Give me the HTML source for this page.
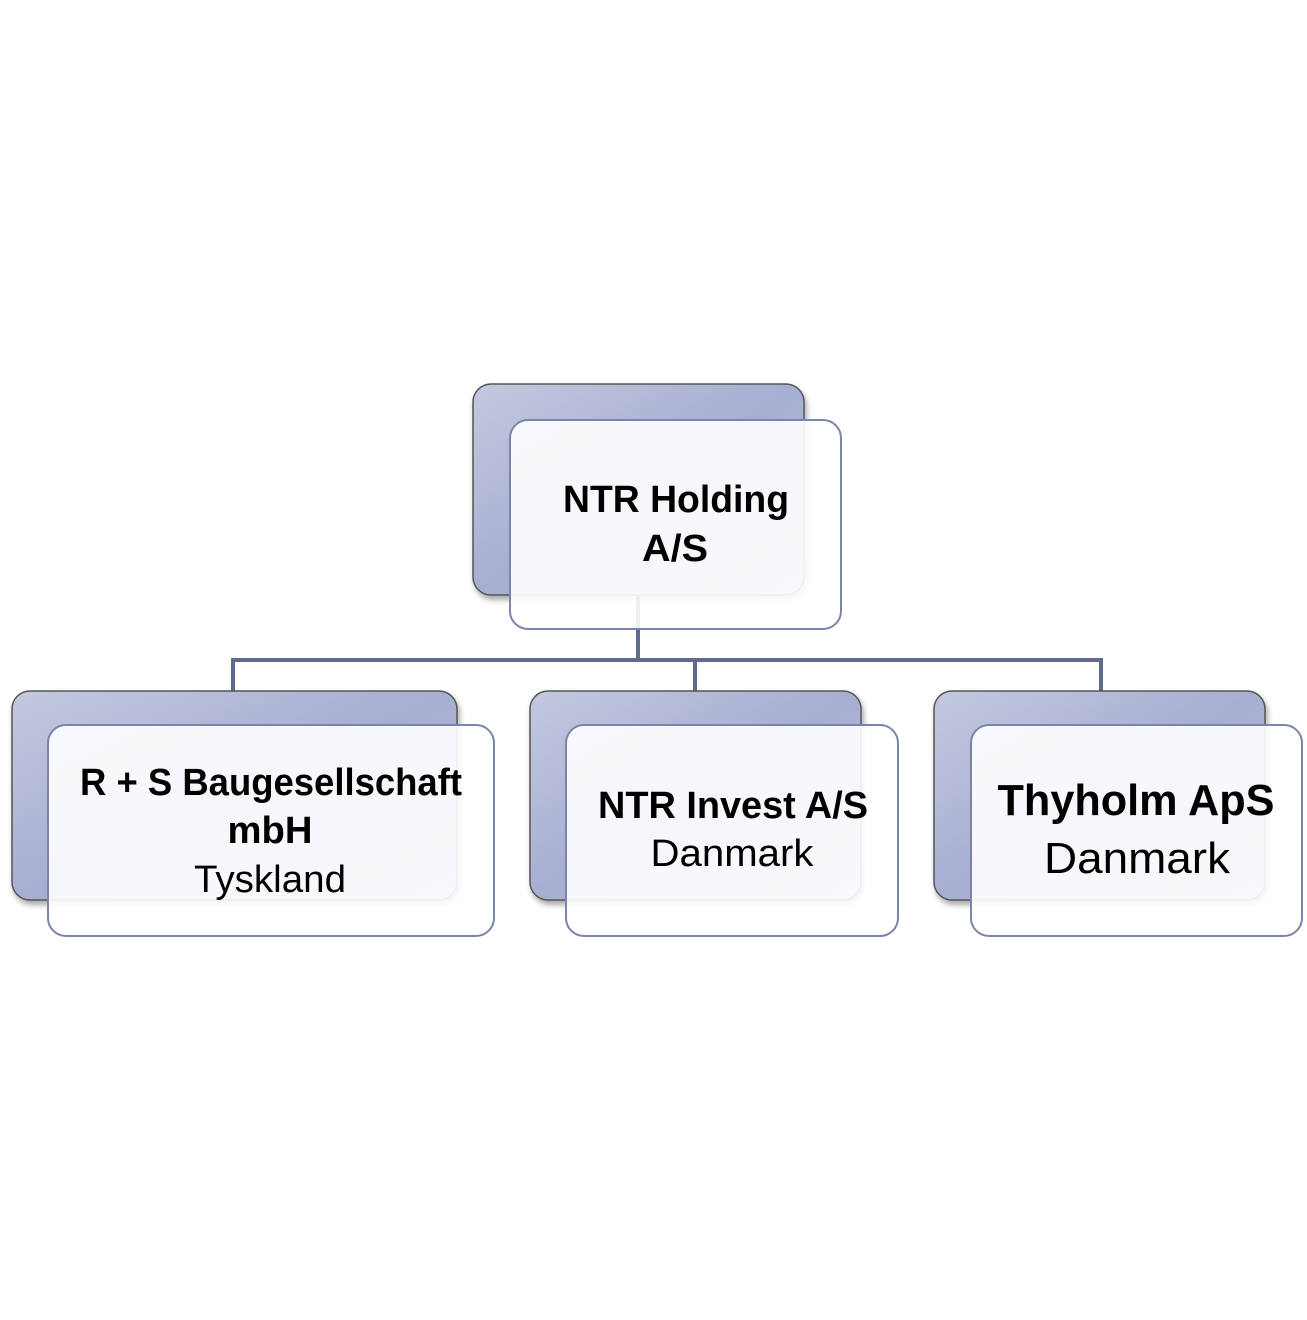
<!DOCTYPE html>
<html><head><meta charset="utf-8"><style>
html,body{margin:0;padding:0;background:#fff;}
svg{display:block;}
text{font-family:"Liberation Sans",sans-serif;fill:#000;text-anchor:middle;}
.b{font-weight:bold;}
</style></head><body>
<svg width="1307" height="1320" viewBox="0 0 1307 1320" xmlns="http://www.w3.org/2000/svg">
<defs>
<linearGradient id="g" x1="0" y1="0" x2="1" y2="1">
<stop offset="0" stop-color="#c4c9df"/>
<stop offset="0.5" stop-color="#a6aed2"/>
<stop offset="1" stop-color="#b8bedb"/>
</linearGradient>
<filter id="sh" x="-10%" y="-10%" width="130%" height="130%">
<feDropShadow dx="2" dy="4" stdDeviation="3" flood-color="#000" flood-opacity="0.35"/>
</filter>
</defs>
<!-- connectors -->
<g stroke="#5f6a8c" stroke-width="4" fill="none">
<line x1="638" y1="595" x2="638" y2="660"/>
<line x1="231" y1="660" x2="1103" y2="660"/>
<line x1="233" y1="660" x2="233" y2="692"/>
<line x1="695" y1="660" x2="695" y2="692"/>
<line x1="1101" y1="660" x2="1101" y2="692"/>
</g>
<!-- back boxes -->
<g fill="url(#g)" stroke="#555" stroke-width="1.5" filter="url(#sh)">
<rect x="473" y="384" width="331" height="211" rx="18"/>
<rect x="12" y="691" width="445" height="209" rx="18"/>
<rect x="530" y="691" width="331" height="209" rx="18"/>
<rect x="934" y="691" width="331" height="209" rx="18"/>
</g>
<!-- front boxes -->
<g fill="#ffffff" fill-opacity="0.9" stroke="#7a84ad" stroke-width="2">
<rect x="510" y="420" width="331" height="209" rx="18"/>
<rect x="48" y="725" width="446" height="211" rx="18"/>
<rect x="566" y="725" width="332" height="211" rx="18"/>
<rect x="971" y="725" width="331" height="211" rx="18"/>
</g>
<text class="b" x="676" y="512" font-size="38" textLength="226" lengthAdjust="spacingAndGlyphs">NTR Holding</text>
<text class="b" x="675" y="561" font-size="38" textLength="66" lengthAdjust="spacingAndGlyphs">A/S</text>
<text class="b" x="271" y="795" font-size="38" textLength="382" lengthAdjust="spacingAndGlyphs">R + S Baugesellschaft</text>
<text class="b" x="270" y="843" font-size="38" textLength="85" lengthAdjust="spacingAndGlyphs">mbH</text>
<text x="270" y="892" font-size="38" textLength="152" lengthAdjust="spacingAndGlyphs">Tyskland</text>
<text class="b" x="733" y="818" font-size="38" textLength="270" lengthAdjust="spacingAndGlyphs">NTR Invest A/S</text>
<text x="732" y="866" font-size="38" textLength="163" lengthAdjust="spacingAndGlyphs">Danmark</text>
<text class="b" x="1136" y="815" font-size="44" textLength="277" lengthAdjust="spacingAndGlyphs">Thyholm ApS</text>
<text x="1137" y="873" font-size="44" textLength="186" lengthAdjust="spacingAndGlyphs">Danmark</text>
</svg>
</body></html>
